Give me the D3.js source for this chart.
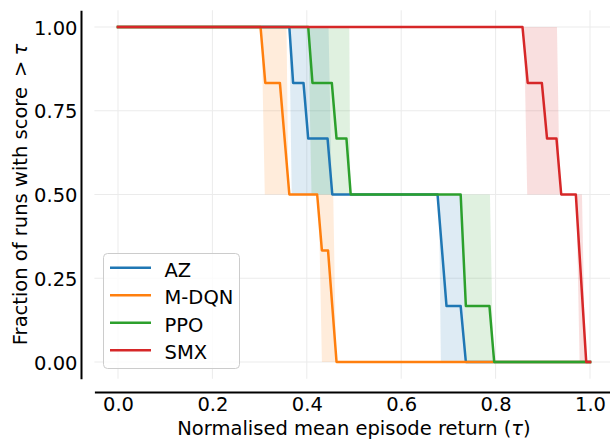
<!DOCTYPE html>
<html>
<head>
<meta charset="utf-8">
<script src="https://cdn.jsdelivr.net/npm/d3@7"></script>
<style>
  body { margin: 0; background: #fff; }
  text { font-family: "DejaVu Sans", sans-serif; }
</style>
</head>
<body>
<div id="chart"></div>
<script>
/* DATA */
var algorithms = ["AZ", "M-DQN", "PPO", "SMX"];
var colors = ["#1f77b4", "#ff7f0e", "#2ca02c", "#d62728"];

var xTicks = [0, 0.2, 0.4, 0.6, 0.8, 1.0];
var yTicks = [0, 0.25, 0.5, 0.75, 1.0];

// profile curves: tau values and fraction of runs with score > tau
var azTau  = [0, 0.363, 0.371, 0.393, 0.403, 0.444, 0.454, 0.677, 0.696, 0.726, 0.737, 1.0];
var azFrac = [1, 1, 0.833, 0.833, 0.667, 0.667, 0.5, 0.5, 0.167, 0.167, 0, 0];
var mdqnTau  = [0, 0.302, 0.312, 0.343, 0.363, 0.422, 0.432, 0.445, 0.463, 1.0];
var mdqnFrac = [1, 1, 0.833, 0.833, 0.5, 0.5, 0.333, 0.333, 0, 0];
var ppoTau  = [0, 0.403, 0.412, 0.453, 0.463, 0.484, 0.493, 0.726, 0.737, 0.787, 0.797, 1.0];
var ppoFrac = [1, 1, 0.833, 0.833, 0.667, 0.667, 0.5, 0.5, 0.167, 0.167, 0, 0];
var smxTau  = [0, 0.857, 0.868, 0.898, 0.909, 0.929, 0.939, 0.970, 0.992, 1.0];
var smxFrac = [1, 1, 0.833, 0.833, 0.667, 0.667, 0.5, 0.5, 0, 0];

// confidence bands: lower and upper profile (same fraction levels)
var bandFrac = [1, 1, 0.5, 0.5, 0, 0];
var azLowTau    = [0, 0.363, 0.368, 0.680, 0.684, 1.0];
var azHighTau   = [0, 0.446, 0.453, 0.730, 0.735, 1.0];
var mdqnLowTau  = [0, 0.304, 0.311, 0.425, 0.432, 1.0];
var mdqnHighTau = [0, 0.357, 0.361, 0.456, 0.462, 1.0];
var ppoLowTau   = [0, 0.403, 0.410, 0.730, 0.735, 1.0];
var ppoHighTau  = [0, 0.490, 0.492, 0.788, 0.795, 1.0];
var smxLowTau   = [0, 0.860, 0.867, 0.971, 0.978, 1.0];
var smxHighTau  = [0, 0.930, 0.936, 0.983, 0.990, 1.0];

var curves = [[azTau, azFrac], [mdqnTau, mdqnFrac], [ppoTau, ppoFrac], [smxTau, smxFrac]];
var bands = [[azLowTau, azHighTau], [mdqnLowTau, mdqnHighTau], [ppoLowTau, ppoHighTau], [smxLowTau, smxHighTau]];

function createProfilePlot() {
    var w = 610;
    var h = 440;
    var fontSize = 19.5;

    var xScale = d3.scaleLinear().domain([-0.05, 1.05]).range([94.4, 613.6]);
    var yScale = d3.scaleLinear().domain([-0.05, 1.05]).range([378.75, 10.25]);

    var svg = d3.select("#chart").append("svg")
        .attr("width", w)
        .attr("height", h);

    /* GRID */
    var grid = svg.append("g").attr("class", "grid")
        .attr("stroke", "#ebebeb").attr("stroke-width", 1);
    grid.selectAll("line.v").data(xTicks).enter().append("line")
        .attr("x1", d => xScale(d)).attr("x2", d => xScale(d))
        .attr("y1", yScale.range()[1]).attr("y2", yScale.range()[0]);
    grid.selectAll("line.h").data(yTicks).enter().append("line")
        .attr("y1", d => yScale(d)).attr("y2", d => yScale(d))
        .attr("x1", xScale.range()[0]).attr("x2", xScale.range()[1]);

    /* BANDS */
    var toPts = (taus, fracs) => taus.map((t, i) => [xScale(t), yScale(fracs[i])]);
    svg.append("g").selectAll("path").data(bands).enter().append("path")
        .attr("d", function (b) {
            var lo = toPts(b[0], bandFrac);
            var hi = toPts(b[1], bandFrac).reverse();
            return "M" + lo.concat(hi).join("L") + "Z";
        })
        .attr("fill", (d, i) => colors[i])
        .attr("fill-opacity", 0.15)
        .attr("stroke", "none");

    /* LINES */
    var line = d3.line();
    svg.append("g").selectAll("path").data(curves).enter().append("path")
        .attr("d", c => line(toPts(c[0], c[1])))
        .attr("fill", "none")
        .attr("stroke", (d, i) => colors[i])
        .attr("stroke-width", 2.5)
        .attr("stroke-linejoin", "round")
        .attr("stroke-linecap", "square");

    /* AXES (offset spines, no tick marks) */
    var xAxis = d3.axisBottom(xScale).tickValues(xTicks).tickFormat(d3.format(".1f"))
        .tickSize(0).tickPadding(5.5).tickSizeOuter(0);
    var yAxis = d3.axisLeft(yScale).tickValues(yTicks).tickFormat(d3.format(".2f"))
        .tickSize(0).tickPadding(3.5).tickSizeOuter(0);

    var gx = svg.append("g").attr("transform", "translate(0,392)").call(xAxis);
    var gy = svg.append("g").attr("transform", "translate(81,0)").call(yAxis);
    [gx, gy].forEach(function (g) {
        g.select(".domain").attr("stroke", "#000").attr("stroke-width", 2);
        g.selectAll("text").attr("font-size", fontSize).attr("fill", "#000")
            .attr("font-family", "DejaVu Sans");
    });
    gy.selectAll("text").attr("dy", "0.36em");

    /* AXIS TITLES */
    var xt = svg.append("text")
        .attr("x", (xScale.range()[0] + xScale.range()[1]) / 2).attr("y", 435)
        .attr("text-anchor", "middle").attr("font-size", fontSize)
        .text("Normalised mean episode return (");
    xt.append("tspan").attr("font-style", "italic").text("τ");
    xt.append("tspan").text(")");

    var yt = svg.append("text")
        .attr("transform", "translate(27," + ((yScale.range()[0] + yScale.range()[1]) / 2) + ") rotate(-90)")
        .attr("text-anchor", "middle").attr("font-size", fontSize)
        .text("Fraction of runs with score ");
    yt.append("tspan").attr("dx", 4).text(">");
    yt.append("tspan").attr("dx", 5).attr("font-style", "italic").text("τ");

    /* LEGEND */
    var legend = svg.append("g").attr("class", "legend");
    legend.append("rect")
        .attr("x", 103.5).attr("y", 253.5).attr("width", 136).attr("height", 115)
        .attr("rx", 4).attr("fill", "#fff").attr("fill-opacity", 0.8)
        .attr("stroke", "#cccccc").attr("stroke-width", 1);
    var items = legend.selectAll("g.item").data(algorithms).enter().append("g")
        .attr("transform", (d, i) => "translate(0," + (267.7 + i * 27.5) + ")");
    items.append("line")
        .attr("x1", 110).attr("x2", 151).attr("y1", 0).attr("y2", 0)
        .attr("stroke", (d, i) => colors[i]).attr("stroke-width", 2.5);
    items.append("text")
        .attr("x", 164.5).attr("y", 9)
        .attr("font-size", fontSize)
        .text(d => d);
}

function main() {
    createProfilePlot();
}

main()
</script>
</body>
</html>
